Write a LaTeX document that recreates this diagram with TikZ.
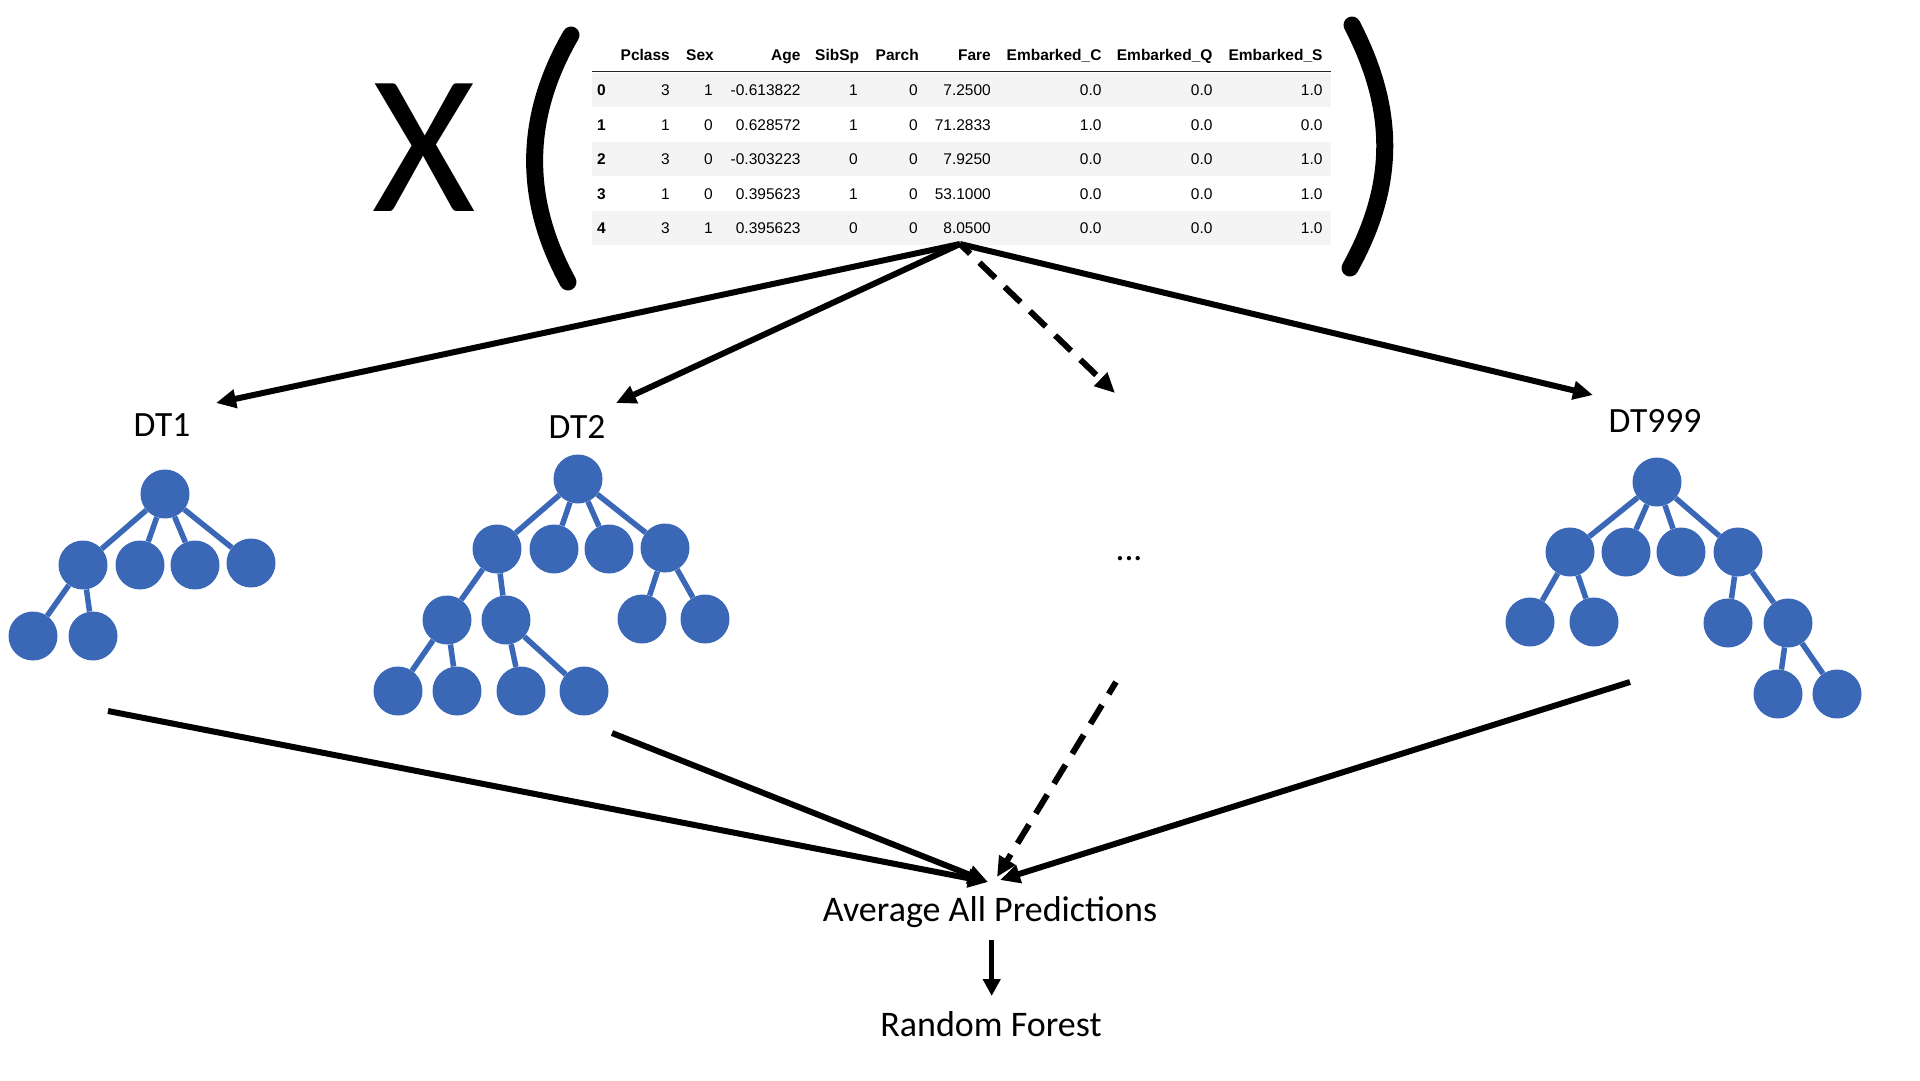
\documentclass[tikz,border=0pt]{standalone}
\usepackage{fontspec}
\setmainfont{Carlito}
\newfontfamily\tabfont{Liberation Sans}
\usetikzlibrary{arrows.meta}
\definecolor{treeblue}{RGB}{58,104,183}
\definecolor{rowgray}{RGB}{244,244,244}
\begin{document}
\begin{tikzpicture}[x=1pt,y=-1pt,
  treenode/.style={circle,fill=treeblue,draw=none,minimum size=49pt,inner sep=0pt},
  treeedge/.style={draw=treeblue,line width=5.5pt},
  arr/.style={line width=6pt,-{Triangle[length=20pt,width=18pt]}},
  darr/.style={arr,dash pattern=on 22pt off 13pt,dash phase=8pt},
  lbl/.style={font=\fontsize{35.5}{42}\selectfont,inner sep=0pt},
  biglbl/.style={font=\fontsize{36}{43}\selectfont,inner sep=0pt,anchor=base},
  hd/.style={font=\tabfont\bfseries\fontsize{15.5}{18}\selectfont,anchor=base east,inner sep=0pt},
  cell/.style={font=\tabfont\fontsize{15.5}{18}\selectfont,anchor=base east,inner sep=0pt},
  idx/.style={font=\tabfont\bfseries\fontsize{15.5}{18}\selectfont,anchor=base west,inner sep=0pt},
  paren/.style={line width=17pt,line cap=round}
]
\useasboundingbox (0,0) rectangle (1920,1080);
\fill[white] (0,0) rectangle (1920,1080);

% big X and parentheses
\node[font=\fontsize{199}{199}\selectfont,inner sep=0pt] (X) at (424,148) {X};
\draw[paren] (571,35) .. controls (523,118) and (523,200) .. (568,282);
\draw[paren] (1352,25) .. controls (1396,110) and (1396,185) .. (1350,268);

% table background
\foreach \r in {0,2,4}{
  \fill[rowgray] (592,{72.7+34.5*\r}) rectangle (1331,{107.2+34.5*\r});
}
\draw[line width=1.3pt,black!85] (592,71.7) -- (1331,71.7);

% header
\node[hd] (h1) at (670,60.7) {Pclass};
\node[hd] (h2) at (714,60.7) {Sex};
\node[hd] (h3) at (800.7,60.7) {Age};
\node[hd] (h4) at (859.3,60.7) {SibSp};
\node[hd] (h5) at (919,60.7) {Parch};
\node[hd] (h6) at (991,60.7) {Fare};
\node[hd] (h7) at (1101.7,60.7) {Embarked\_C};
\node[hd] (h8) at (1212.7,60.7) {Embarked\_Q};
\node[hd] (h9) at (1322.7,60.7) {Embarked\_S};

% rows
\foreach \r/\va/\vb/\vc/\vd/\ve/\vf/\vg/\vh/\vi in {
  0/3/1/-0.613822/1/0/7.2500/0.0/0.0/1.0,
  1/1/0/0.628572/1/0/71.2833/1.0/0.0/0.0,
  2/3/0/-0.303223/0/0/7.9250/0.0/0.0/1.0,
  3/1/0/0.395623/1/0/53.1000/0.0/0.0/1.0,
  4/3/1/0.395623/0/0/8.0500/0.0/0.0/1.0}{
  \pgfmathsetmacro{\yb}{95.7+34.5*\r}
  \node[idx]  (r\r-0) at (597,\yb) {\r};
  \node[cell] (r\r-1) at (670,\yb) {\va};
  \node[cell] (r\r-2) at (713,\yb) {\vb};
  \node[cell] (r\r-3) at (800.7,\yb) {\vc};
  \node[cell] (r\r-4) at (858,\yb) {\vd};
  \node[cell] (r\r-5) at (918,\yb) {\ve};
  \node[cell] (r\r-6) at (991,\yb) {\vf};
  \node[cell] (r\r-7) at (1101.7,\yb) {\vg};
  \node[cell] (r\r-8) at (1212.7,\yb) {\vh};
  \node[cell] (r\r-9) at (1322.7,\yb) {\vi};
}

% labels
\node[lbl] (dt1) at (162,425) {DT1};
\node[lbl] (dt2) at (577,427) {DT2};
\node[lbl] (dt999) at (1655,421) {DT999};
\node[lbl] (dots) at (1129,559) {...};
\node[biglbl] (avg) at (990,921.7) {Average All Predictions};
\node[biglbl] (rf) at (991,1036.7) {Random Forest};

% tree 1
\node[treenode] (t1r) at (165,494) {};
\node[treenode] (t1a) at (83,565) {};
\node[treenode] (t1b) at (140,565) {};
\node[treenode] (t1c) at (195,565) {};
\node[treenode] (t1d) at (251,563) {};
\node[treenode] (t1aa) at (33,636) {};
\node[treenode] (t1ab) at (93,636) {};
\draw[treeedge] (t1r) -- (t1a) (t1r) -- (t1b) (t1r) -- (t1c) (t1r) -- (t1d)
  (t1a) -- (t1aa) (t1a) -- (t1ab);

% tree 2
\node[treenode] (t2r) at (578,479) {};
\node[treenode] (t2a) at (497,549) {};
\node[treenode] (t2b) at (554,549) {};
\node[treenode] (t2c) at (609,549) {};
\node[treenode] (t2d) at (665,548) {};
\node[treenode] (t2aa) at (447,620) {};
\node[treenode] (t2ab) at (506,620) {};
\node[treenode] (t2da) at (642,619) {};
\node[treenode] (t2db) at (705,619) {};
\node[treenode] (t2aaa) at (398,691) {};
\node[treenode] (t2aab) at (457,691) {};
\node[treenode] (t2aba) at (521,691) {};
\node[treenode] (t2abb) at (584,691) {};
\draw[treeedge] (t2r) -- (t2a) (t2r) -- (t2b) (t2r) -- (t2c) (t2r) -- (t2d)
  (t2a) -- (t2aa) (t2a) -- (t2ab) (t2d) -- (t2da) (t2d) -- (t2db)
  (t2aa) -- (t2aaa) (t2aa) -- (t2aab) (t2ab) -- (t2aba) (t2ab) -- (t2abb);

% tree 3
\node[treenode] (t3r) at (1657,482) {};
\node[treenode] (t3a) at (1570,552) {};
\node[treenode] (t3b) at (1626,552) {};
\node[treenode] (t3c) at (1681,552) {};
\node[treenode] (t3d) at (1738,552) {};
\node[treenode] (t3aa) at (1530,622) {};
\node[treenode] (t3ab) at (1594,622) {};
\node[treenode] (t3da) at (1728,623) {};
\node[treenode] (t3db) at (1788,623) {};
\node[treenode] (t3dba) at (1778,694) {};
\node[treenode] (t3dbb) at (1837,694) {};
\draw[treeedge] (t3r) -- (t3a) (t3r) -- (t3b) (t3r) -- (t3c) (t3r) -- (t3d)
  (t3a) -- (t3aa) (t3a) -- (t3ab) (t3d) -- (t3da) (t3d) -- (t3db)
  (t3db) -- (t3dba) (t3db) -- (t3dbb);

% arrow end points
\coordinate (src) at (960,244);
\coordinate (e1) at (216,403);
\coordinate (e2) at (616,403);
\coordinate (e3) at (1115,393);
\coordinate (e4) at (1593,395);
\coordinate (b1) at (108,711);
\coordinate (b2) at (612,733);
\coordinate (b3) at (1116,682);
\coordinate (b4) at (1630,682);
\coordinate (m1) at (988,882);
\coordinate (m3) at (997,877);
\coordinate (m4) at (1000,880);
\coordinate (va) at (991.7,940);
\coordinate (vb) at (991.7,996);

\draw[arr] (src) -- (e1);
\draw[arr] (src) -- (e2);
\draw[darr] (src) -- (e3);
\draw[arr] (src) -- (e4);
\draw[arr] (b1) -- (m1);
\draw[arr] (b2) -- (m1);
\draw[darr] (b3) -- (m3);
\draw[arr] (b4) -- (m4);
\draw[line width=5pt,-{Triangle[length=17pt,width=17pt]}] (va) -- (vb);
\end{tikzpicture}
\end{document}
